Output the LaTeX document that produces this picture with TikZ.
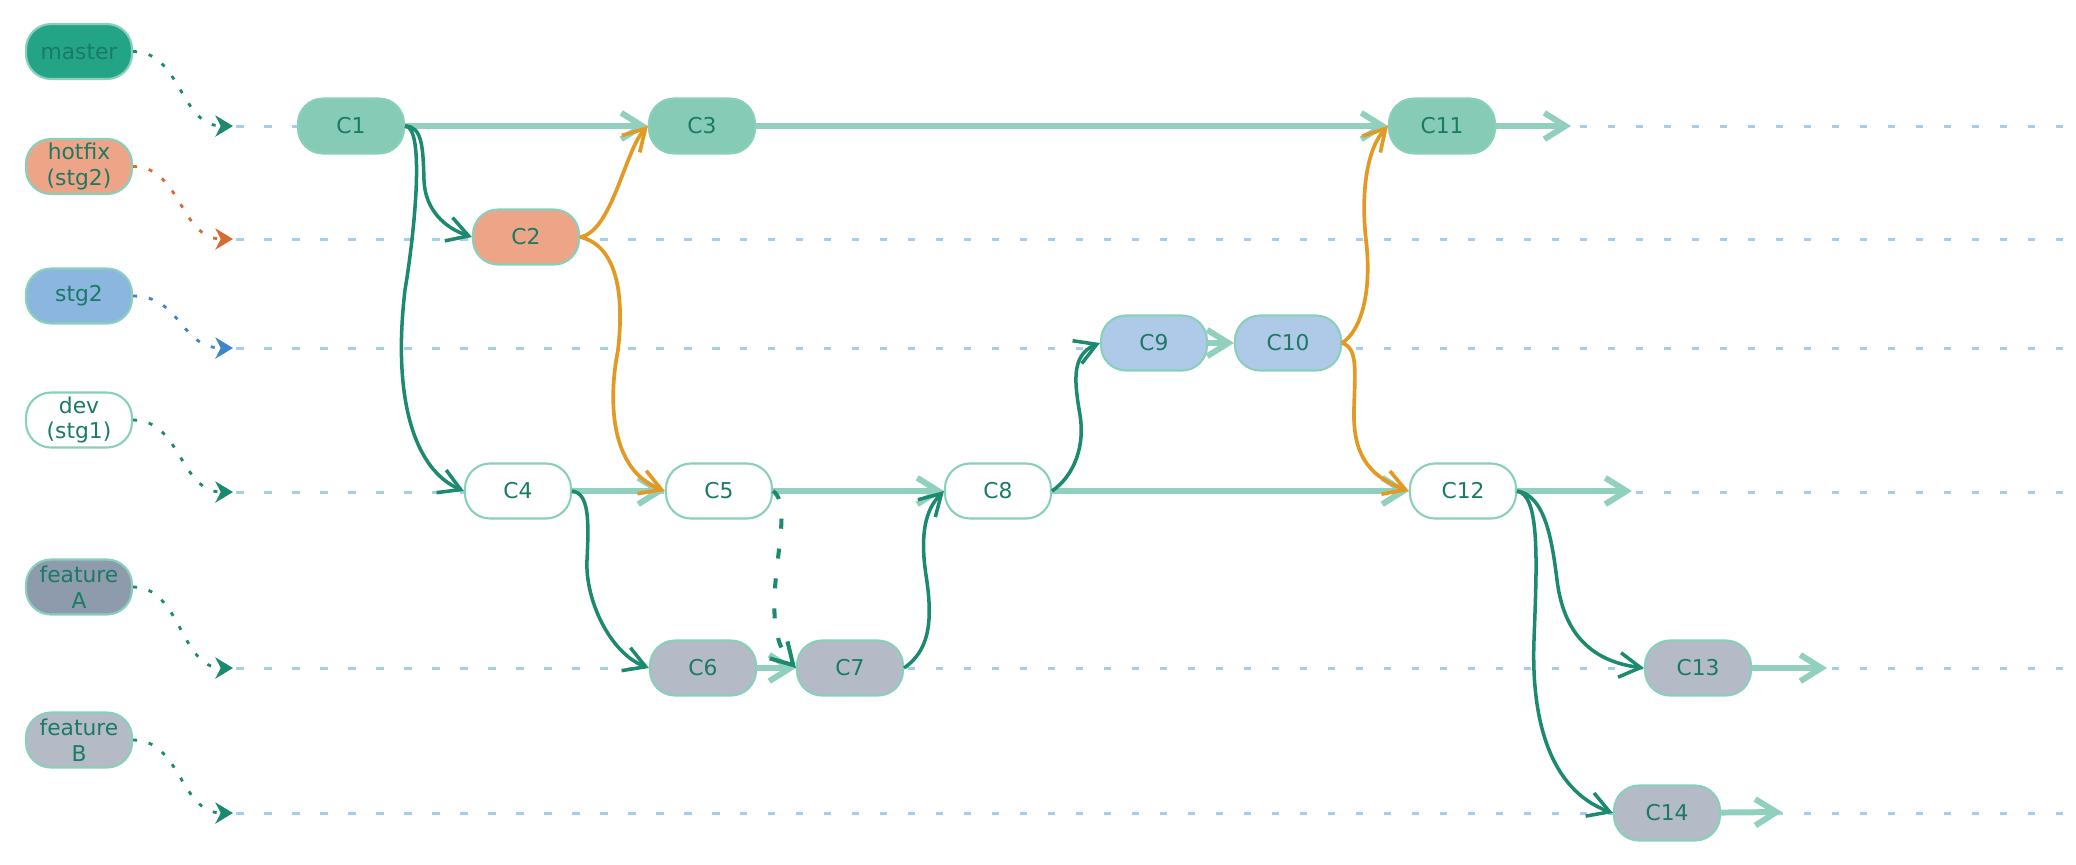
\documentclass[tikz,border=0pt]{standalone}
\usepackage{fontspec}
\setmainfont{DejaVu Sans}
\usetikzlibrary{arrows.meta}
\usetikzlibrary{positioning}

\definecolor{txtgreen}{HTML}{1B7A66}
\definecolor{rim}{HTML}{88D0BA}
\definecolor{masterfill}{HTML}{24A487}
\definecolor{hotfixfill}{HTML}{EEA587}
\definecolor{stgfill}{HTML}{8AB6E0}
\definecolor{featafill}{HTML}{8D9BAC}
\definecolor{featbfill}{HTML}{B4BBC6}
\definecolor{mastercommit}{HTML}{85CBB6}
\definecolor{stgcommit}{HTML}{AFC9E8}
\definecolor{arrowgreen}{HTML}{1C8A6F}
\definecolor{arroworange}{HTML}{E29A24}
\definecolor{flowcol}{HTML}{91D0BE}
\definecolor{lanecol}{HTML}{A3CFEF}
\definecolor{hotfixarrow}{HTML}{D76B34}
\definecolor{stgarrow}{HTML}{3B87C8}

\begin{document}
\begin{tikzpicture}[
		x=0.1mm, y=-0.1mm,
		font=\fontsize{6.2}{7.3}\selectfont,
		branch/.style={draw=rim, line width=0.6pt, text=txtgreen, align=center, inner sep=0pt, minimum width=10.6mm, minimum height=5.5mm, rounded corners=2.5mm},
		commit/.style={branch},
		lane/.style={draw=lanecol, line width=0.85pt, dash pattern=on 0.75mm off 2.05mm},
		pointer/.style={line width=0.8pt, dash pattern=on 0.4mm off 1.2mm, -{Stealth[length=5pt,width=6pt,inset=1.5pt]}},
		flow/.style={draw=flowcol, line width=1.7pt, -{Straight Barb[length=6pt,width=7.5pt]}},
		branchoff/.style={draw=arrowgreen, line width=1pt, -{Straight Barb[length=6pt,width=7pt]}},
		mergein/.style={draw=arroworange, line width=1.05pt, -{Straight Barb[length=6pt,width=7pt]}},
		rebase/.style={branchoff, line width=1.15pt, dash pattern=on 1mm off 2mm},
	]
	\useasboundingbox (0,0) rectangle (2076,864);
	% Draw lanes
	\foreach \name/\y in {master/126, hotfix/239, stg/348, dev/492, feata/668, featb/813} {
		\coordinate (lane-\name) at (233,\y);
		\coordinate (end-\name) at (2076,\y);
		\draw[lane] (236,\y) -- (end-\name);
	}
	% Draw branch labels
	\node (master) [branch,fill=masterfill] at (79,51.5) {master};
	\node (hotfix) [branch,fill=hotfixfill] at (79,166.5) {hotfix\\(stg2)};
	\node (stg) [branch,fill=stgfill] at (79,296) {stg2};
	\node (dev) [branch,fill=white] at (79,420) {dev\\(stg1)};
	\node (feata) [branch,fill=featafill] at (79,587) {feature\\A};
	\node (featb) [branch,fill=featbfill] at (79,740) {feature\\B};
	% Draw commits
	\node (c1) [commit,fill=mastercommit] at (351,126) {C1};
	\node (c3) [commit,fill=mastercommit] at (702,126) {C3};
	\node (c11) [commit,fill=mastercommit] at (1442,126) {C11};
	\node (c2) [commit,fill=hotfixfill] at (526,237) {C2};
	\node (c9) [commit,fill=stgcommit] at (1154,343) {C9};
	\node (c10) [commit,fill=stgcommit] at (1288,343) {C10};
	\node (c4) [commit,fill=white] at (518,491) {C4};
	\node (c5) [commit,fill=white] at (719,491) {C5};
	\node (c8) [commit,fill=white] at (998,491) {C8};
	\node (c12) [commit,fill=white] at (1463,491) {C12};
	\node (c6) [commit,fill=featbfill] at (703,668) {C6};
	\node (c7) [commit,fill=featbfill] at (850,668) {C7};
	\node (c13) [commit,fill=featbfill] at (1698,668) {C13};
	\node (c14) [commit,fill=featbfill] at (1667,813) {C14};
	\coordinate (c11-out) at (1571,126);
	\coordinate (c12-out) at (1632,491);
	\coordinate (c13-out) at (1827,668);
	\coordinate (c14-out) at (1782,812);
	% Draw label pointers
	\draw[pointer,arrowgreen] (master.east) .. controls +(48,0) and +(-53,0) .. (lane-master);
	\draw[pointer,hotfixarrow] (hotfix.east) .. controls +(48,0) and +(-53,0) .. (lane-hotfix);
	\draw[pointer,stgarrow] (stg.east) .. controls +(48,0) and +(-53,0) .. (lane-stg);
	\draw[pointer,arrowgreen] (dev.east) .. controls +(48,0) and +(-53,0) .. (lane-dev);
	\draw[pointer,arrowgreen] (feata.east) .. controls +(48,0) and +(-53,0) .. (lane-feata);
	\draw[pointer,arrowgreen] (featb.east) .. controls +(48,0) and +(-53,0) .. (lane-featb);
	% Draw history along each branch
	\draw[flow] (c1) -- (c3);
	\draw[flow] (c3) -- (c11);
	\draw[flow] (c11) -- (c11-out);
	\draw[flow] (c9) -- (c10);
	\draw[flow] (c4) -- (c5);
	\draw[flow] (c5) -- (c8);
	\draw[flow] (c8) -- (c12);
	\draw[flow] (c12) -- (c12-out);
	\draw[flow] (c6) -- (c7);
	\draw[flow] (c13) -- (c13-out);
	\draw[flow] (c14) -- (c14-out);
	% Draw branching and merging
	\draw[branchoff] (c1.east) .. controls (423,126) and (423,150) .. (424,180) .. controls (425,210) and (445,228) .. (c2.west);
	\draw[branchoff] (c1.east) .. controls (425,126) and (415,230) .. (405,290) .. controls (392,400) and (415,470) .. (c4.west);
	\draw[mergein] (c2.east) .. controls (612,232) and (625,150) .. (c3.west);
	\draw[mergein] (c2.east) .. controls (615,245) and (625,290) .. (618,350) .. controls (608,400) and (610,470) .. (c5.west);
	\draw[branchoff] (c4.east) .. controls (589,493) and (589,520) .. (587,560) .. controls (585,600) and (610,653) .. (c6.west);
	\draw[rebase] (c5.east) .. controls (800,510) and (750,620) .. (c7.west);
	\draw[branchoff] (c7.east) .. controls (930,650) and (933,620) .. (926,575) .. controls (920,535) and (925,510) .. (c8.west);
	\draw[branchoff] (c8.east) .. controls (1075,475) and (1085,445) .. (1080,415) .. controls (1075,385) and (1070,355) .. (c9.west);
	\draw[mergein] (c10.east) .. controls (1362,330) and (1372,290) .. (1366,240) .. controls (1361,195) and (1366,150) .. (c11.west);
	\draw[mergein] (c10.east) .. controls (1358,348) and (1355,370) .. (1354,410) .. controls (1353,450) and (1365,475) .. (c12.west);
	\draw[branchoff] (c12.east) .. controls (1545,495) and (1552,540) .. (1557,580) .. controls (1562,620) and (1580,660) .. (c13.west);
	\draw[branchoff] (c12.east) .. controls (1540,495) and (1537,560) .. (1534,640) .. controls (1531,720) and (1550,790) .. (c14.west);
\end{tikzpicture}
\end{document}
